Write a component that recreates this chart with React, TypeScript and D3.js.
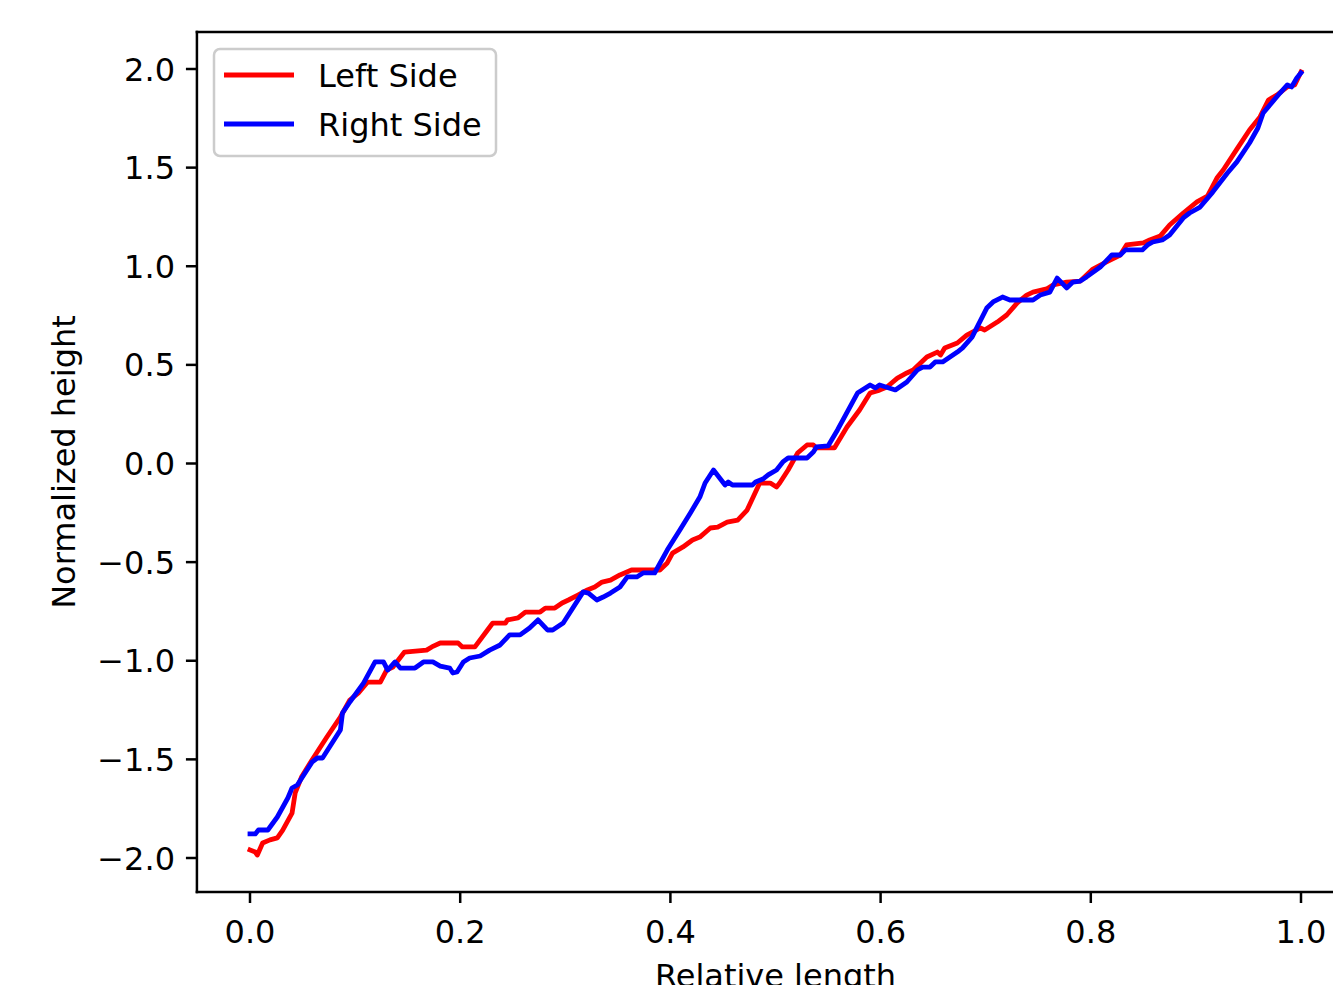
import React from "react";
import * as d3 from "d3";

const xTicks = [0, 0.2, 0.4, 0.6, 0.8, 1.0];
const yTicks = [-2.0, -1.5, -1.0, -0.5, 0.0, 0.5, 1.0, 1.5, 2.0];

const leftX = [0.000,0.005,0.007,0.012,0.019,0.026,0.031,0.040,0.043,0.049,0.059,0.073,0.086,0.095,0.103,0.112,0.124,0.130,0.136,0.147,0.168,0.173,0.181,0.198,0.202,0.214,0.226,0.231,0.243,0.245,0.255,0.262,0.276,0.281,0.290,0.297,0.303,0.312,0.321,0.328,0.335,0.343,0.352,0.363,0.390,0.397,0.402,0.412,0.421,0.428,0.438,0.445,0.454,0.464,0.473,0.485,0.495,0.501,0.504,0.512,0.521,0.530,0.536,0.539,0.556,0.568,0.580,0.590,0.599,0.606,0.616,0.625,0.631,0.644,0.654,0.657,0.661,0.673,0.682,0.695,0.699,0.711,0.720,0.730,0.739,0.745,0.758,0.764,0.777,0.790,0.802,0.815,0.828,0.834,0.850,0.856,0.866,0.875,0.888,0.901,0.911,0.920,0.926,0.939,0.951,0.961,0.969,0.977,0.987,0.994,1.000];
const leftY = [-1.959,-1.970,-1.985,-1.924,-1.908,-1.898,-1.860,-1.772,-1.670,-1.590,-1.503,-1.388,-1.285,-1.199,-1.164,-1.108,-1.108,-1.047,-1.032,-0.956,-0.946,-0.930,-0.910,-0.910,-0.930,-0.930,-0.844,-0.809,-0.809,-0.793,-0.783,-0.753,-0.753,-0.733,-0.733,-0.707,-0.692,-0.667,-0.641,-0.626,-0.601,-0.591,-0.565,-0.540,-0.540,-0.504,-0.454,-0.423,-0.388,-0.373,-0.327,-0.322,-0.297,-0.287,-0.236,-0.099,-0.099,-0.119,-0.099,-0.033,0.053,0.094,0.094,0.079,0.079,0.185,0.271,0.357,0.372,0.388,0.433,0.459,0.474,0.540,0.565,0.550,0.586,0.611,0.651,0.687,0.677,0.717,0.753,0.814,0.854,0.869,0.885,0.905,0.920,0.925,0.986,1.022,1.057,1.108,1.118,1.133,1.153,1.209,1.270,1.326,1.356,1.447,1.488,1.594,1.691,1.757,1.843,1.868,1.909,1.919,1.985];

const rightX = [0.000,0.005,0.008,0.017,0.026,0.036,0.040,0.045,0.059,0.064,0.069,0.086,0.088,0.095,0.108,0.119,0.127,0.131,0.138,0.143,0.157,0.165,0.174,0.181,0.190,0.193,0.197,0.203,0.209,0.219,0.228,0.238,0.247,0.257,0.266,0.274,0.283,0.288,0.298,0.317,0.322,0.330,0.336,0.343,0.352,0.359,0.368,0.374,0.385,0.397,0.409,0.419,0.428,0.433,0.441,0.452,0.455,0.459,0.478,0.481,0.488,0.493,0.501,0.507,0.512,0.530,0.536,0.539,0.550,0.559,0.578,0.590,0.595,0.599,0.614,0.625,0.635,0.640,0.647,0.652,0.659,0.673,0.678,0.687,0.701,0.707,0.716,0.723,0.745,0.752,0.761,0.768,0.777,0.783,0.790,0.796,0.809,0.820,0.828,0.833,0.849,0.854,0.859,0.868,0.875,0.888,0.894,0.904,0.916,0.930,0.939,0.951,0.959,0.964,0.972,0.980,0.987,0.991,0.996,1.000];
const rightY = [-1.878,-1.878,-1.858,-1.858,-1.792,-1.696,-1.645,-1.630,-1.514,-1.493,-1.493,-1.351,-1.265,-1.209,-1.113,-1.006,-1.006,-1.047,-1.006,-1.037,-1.037,-1.006,-1.006,-1.027,-1.037,-1.062,-1.057,-1.006,-0.986,-0.976,-0.946,-0.920,-0.869,-0.869,-0.834,-0.793,-0.844,-0.844,-0.809,-0.651,-0.657,-0.692,-0.677,-0.657,-0.626,-0.575,-0.575,-0.555,-0.555,-0.439,-0.337,-0.251,-0.170,-0.099,-0.033,-0.109,-0.094,-0.109,-0.109,-0.094,-0.079,-0.058,-0.033,0.008,0.028,0.028,0.058,0.084,0.089,0.170,0.357,0.398,0.383,0.398,0.373,0.413,0.474,0.489,0.489,0.515,0.515,0.565,0.586,0.641,0.788,0.819,0.844,0.829,0.829,0.854,0.869,0.940,0.890,0.920,0.925,0.946,0.996,1.057,1.057,1.083,1.083,1.108,1.123,1.133,1.158,1.245,1.270,1.300,1.376,1.473,1.529,1.625,1.701,1.777,1.828,1.878,1.919,1.909,1.954,1.980];

const seriesNames = ["Left Side", "Right Side"];
const seriesColors = ["#ff0000", "#0000ff"];

const W = 1333;
const H = 985;
const FONT = "DejaVu Sans, sans-serif";
const FS = 32;

export default function App() {
  const x = d3.scaleLinear().domain([0, 1]).range([250, 1301]);
  const y = d3.scaleLinear().domain([-2, 2]).range([858, 69]);
  const frame = { left: x(-0.0505), right: x(1.0505), top: y(2.1876), bottom: y(-2.1724) };

  const line = d3
    .line<[number, number]>()
    .x((d) => x(d[0]))
    .y((d) => y(d[1]));

  const leftData = leftX.map((v, i) => [v, leftY[i]] as [number, number]);
  const rightData = rightX.map((v, i) => [v, rightY[i]] as [number, number]);
  const series = [leftData, rightData];

  const tickLen = 11;
  const fmt = (v: number) => (v < 0 ? "\u2212" + Math.abs(v).toFixed(1) : v.toFixed(1));

  return (
    <svg
      width={W}
      height={H}
      style={{ position: "absolute", left: 0, top: 0, display: "block", background: "#fff" }}
      fontFamily={FONT}
    >
      <rect x={0} y={0} width={W} height={H} fill="#fff" />
      <defs>
        <clipPath id="plotclip">
          <rect x={frame.left} y={frame.top} width={frame.right - frame.left} height={frame.bottom - frame.top} />
        </clipPath>
      </defs>

      <g clipPath="url(#plotclip)">
        {series.map((d, i) => (
          <path
            key={i}
            d={line(d) || ""}
            fill="none"
            stroke={seriesColors[i]}
            strokeWidth={4.8}
            strokeLinejoin="round"
            strokeLinecap="square"
          />
        ))}
      </g>

      {/* spines */}
      <g stroke="#000" strokeWidth={2.5} fill="none">
        <line x1={frame.left} x2={frame.left} y1={frame.top} y2={frame.bottom} strokeLinecap="square" />
        <line x1={frame.left} x2={frame.right} y1={frame.bottom} y2={frame.bottom} strokeLinecap="square" />
        <line x1={frame.left} x2={frame.right} y1={frame.top} y2={frame.top} strokeLinecap="square" />
        <line x1={frame.right} x2={frame.right} y1={frame.top} y2={frame.bottom} />
      </g>

      {/* x ticks */}
      {xTicks.map((t) => (
        <g key={"x" + t}>
          <line x1={x(t)} x2={x(t)} y1={frame.bottom} y2={frame.bottom + tickLen} stroke="#000" strokeWidth={2.5} />
          <text x={x(t)} y={943} textAnchor="middle" fontSize={FS} fill="#000">
            {fmt(t)}
          </text>
        </g>
      ))}

      {/* y ticks */}
      {yTicks.map((t) => (
        <g key={"y" + t}>
          <line x1={frame.left - tickLen} x2={frame.left} y1={y(t)} y2={y(t)} stroke="#000" strokeWidth={2.5} />
          <text x={175} y={y(t)} dy="0.36em" textAnchor="end" fontSize={FS} fill="#000">
            {fmt(t)}
          </text>
        </g>
      ))}

      {/* axis labels */}
      <text x={(frame.left + frame.right) / 2} y={987} textAnchor="middle" fontSize={FS} fill="#000">
        Relative length
      </text>
      <text
        transform={`translate(75, ${(frame.top + frame.bottom) / 2}) rotate(-90)`}
        textAnchor="middle"
        fontSize={FS}
        fill="#000"
      >
        Normalized height
      </text>

      {/* legend */}
      <g>
        <rect x={214} y={49} width={282} height={107} rx={6} ry={6} fill="#fff" fillOpacity={0.8} stroke="#cccccc" strokeWidth={2.5} />
        {seriesNames.map((name, i) => (
          <g key={name}>
            <line x1={224} x2={294} y1={75 + i * 49} y2={75 + i * 49} stroke={seriesColors[i]} strokeWidth={4.8} />
            <text x={318} y={75 + i * 49} dy="0.36em" fontSize={FS} fill="#000">
              {name}
            </text>
          </g>
        ))}
      </g>
    </svg>
  );
}
